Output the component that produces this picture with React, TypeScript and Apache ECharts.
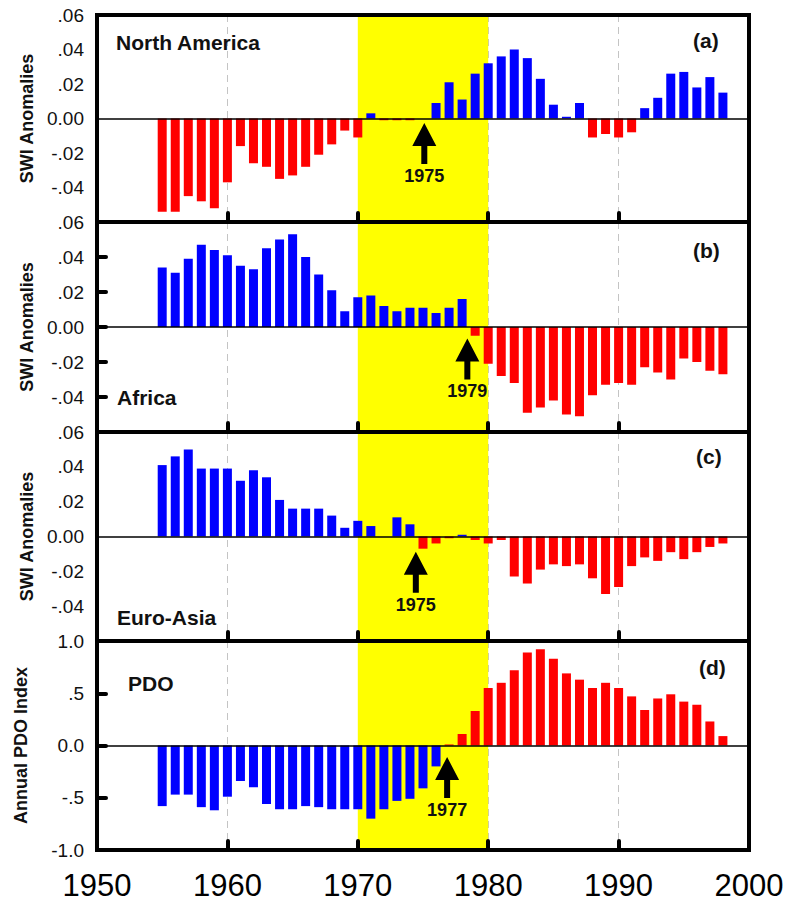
import React, { useEffect, useRef } from 'react';
import * as echarts from 'echarts';

const years = [
  1955, 1956, 1957, 1958, 1959, 1960, 1961, 1962, 1963, 1964,
  1965, 1966, 1967, 1968, 1969, 1970, 1971, 1972, 1973, 1974,
  1975, 1976, 1977, 1978, 1979, 1980, 1981, 1982, 1983, 1984,
  1985, 1986, 1987, 1988, 1989, 1990, 1991, 1992, 1993, 1994,
  1995, 1996, 1997, 1998,
];

const northAmericaSWI = [
  -0.054, -0.054, -0.045, -0.048, -0.052, -0.037, -0.016, -0.026, -0.028, -0.035,
  -0.033, -0.028, -0.021, -0.015, -0.007, -0.011, 0.003, -0.001, -0.001, -0.001,
  0.0, 0.009, 0.021, 0.011, 0.026, 0.032, 0.036, 0.040, 0.035, 0.023,
  0.008, 0.001, 0.009, -0.011, -0.009, -0.011, -0.008, 0.006, 0.012, 0.026,
  0.027, 0.018, 0.024, 0.015,
];

const africaSWI = [
  0.034, 0.031, 0.039, 0.047, 0.044, 0.041, 0.035, 0.033, 0.045, 0.050,
  0.053, 0.040, 0.030, 0.021, 0.009, 0.017, 0.018, 0.012, 0.009, 0.011,
  0.011, 0.008, 0.011, 0.016, -0.005, -0.021, -0.028, -0.032, -0.049, -0.046,
  -0.042, -0.050, -0.051, -0.039, -0.033, -0.032, -0.033, -0.023, -0.026, -0.030,
  -0.018, -0.020, -0.025, -0.027,
];

const euroAsiaSWI = [
  0.041, 0.046, 0.050, 0.039, 0.039, 0.039, 0.032, 0.038, 0.034, 0.021,
  0.016, 0.016, 0.016, 0.012, 0.005, 0.009, 0.006, 0.0, 0.011, 0.007,
  -0.007, -0.004, -0.001, 0.001, -0.002, -0.004, -0.002, -0.023, -0.027, -0.019,
  -0.016, -0.017, -0.016, -0.024, -0.033, -0.029, -0.017, -0.012, -0.014, -0.009,
  -0.013, -0.009, -0.006, -0.004,
];

const pdoIndex = [
  -0.58, -0.47, -0.47, -0.59, -0.62, -0.49, -0.34, -0.40, -0.56, -0.61,
  -0.61, -0.58, -0.59, -0.61, -0.61, -0.61, -0.70, -0.61, -0.53, -0.51,
  -0.41, -0.20, 0.01, 0.11, 0.33, 0.55, 0.60, 0.72, 0.89, 0.92,
  0.83, 0.69, 0.63, 0.55, 0.60, 0.55, 0.47, 0.34, 0.45, 0.49,
  0.42, 0.39, 0.23, 0.09,
];

const panelNames = ['North America', 'Africa', 'Euro-Asia', 'PDO'];
const panelLetters = ['(a)', '(b)', '(c)', '(d)'];
const yAxisNames = ['SWI Anomalies', 'SWI Anomalies', 'SWI Anomalies', 'Annual PDO Index'];
const shiftLabels = ['1975', '1979', '1975', '1977'];
const shiftArrowAt = [
  [1975.1, -0.0026],
  [1978.4, -0.0065],
  [1974.45, -0.0087],
  [1976.85, -0.11],
];
const highlightYears = [1970, 1980];

const FONT = '"Liberation Sans", Arial, Helvetica, sans-serif';
const BLUE = '#0000FF';
const RED = '#FF0000';

const swiFormat = (v: number) => {
  if (Math.abs(v) < 1e-9) return '0.00';
  const s = Math.abs(v).toFixed(2).replace(/^0/, '');
  return (v < 0 ? '-' : '') + s;
};
const pdoFormat = (v: number) => {
  if (Math.abs(v) < 1e-9) return '0.0';
  const s = Math.abs(v).toFixed(1).replace(/^0/, '');
  return (v < 0 ? '-' : '') + s;
};

const panels = [
  { top: 15, height: 207, values: northAmericaSWI, posColor: BLUE, negColor: RED, min: -0.06, max: 0.06, interval: 0.02, fmt: swiFormat, yTicks: false, nameGap: 60, nameSize: 18, nameY: 42, nameX: 116, letterX: 693, letterY: 40 },
  { top: 222, height: 210, values: africaSWI, posColor: BLUE, negColor: RED, min: -0.06, max: 0.06, interval: 0.02, fmt: swiFormat, yTicks: true, nameGap: 60, nameSize: 18, nameY: 397, nameX: 117, letterX: 693, letterY: 250 },
  { top: 432, height: 209, values: euroAsiaSWI, posColor: BLUE, negColor: RED, min: -0.06, max: 0.06, interval: 0.02, fmt: swiFormat, yTicks: false, nameGap: 60, nameSize: 18, nameY: 617, nameX: 117, letterX: 696, letterY: 456 },
  { top: 641, height: 209, values: pdoIndex, posColor: RED, negColor: BLUE, min: -1, max: 1, interval: 0.5, fmt: pdoFormat, yTicks: true, nameGap: 67, nameSize: 18, nameY: 683, nameX: 128, letterX: 699, letterY: 667 },
];

const ARROW = 'path://M12,0L24,23L15,23L15,41L9,41L9,23L0,23Z';

export default function App() {
  const ref = useRef<HTMLDivElement>(null);

  useEffect(() => {
    if (!ref.current) return;
    const chart = echarts.init(ref.current, null, { renderer: 'svg' });

    const grid = panels.map((p) => ({
      left: 97,
      right: 41,
      top: p.top,
      height: p.height,
      show: true,
      borderColor: '#000',
      borderWidth: 4,
      backgroundColor: 'transparent',
      z: 10,
    }));

    const xAxis: any[] = [];
    panels.forEach((p, i) => {
      xAxis.push({
        gridIndex: i,
        type: 'value',
        min: 1950,
        max: 2000,
        interval: 10,
        axisLine: { show: false, onZero: false },
        axisTick: { show: false },
        splitLine: { show: true, lineStyle: { color: '#c4c4c4', width: 1, type: [7, 5] } },
        axisLabel: {
          show: i === 3,
          fontSize: 31,
          color: '#000',
          margin: 20,
          fontFamily: FONT,
          formatter: (v: number) => String(v),
        },
        z: 0,
      });
      xAxis.push({
        gridIndex: i,
        type: 'value',
        min: 1950,
        max: 2000,
        interval: 10,
        position: 'bottom',
        axisLine: { show: false, onZero: false },
        axisTick: { show: true, inside: true, length: 9, lineStyle: { color: '#000', width: 4, cap: 'round' } },
        axisLabel: { show: false },
        splitLine: { show: false },
        z: 6,
      });
    });

    const yAxis = panels.map((p, i) => ({
      gridIndex: i,
      type: 'value',
      min: p.min,
      max: p.max,
      interval: p.interval,
      axisLine: { show: false },
      axisTick: { show: p.yTicks, inside: true, length: 9, lineStyle: { color: '#000', width: 4, cap: 'round' } },
      splitLine: { show: false },
      axisLabel: {
        fontSize: 19,
        color: '#111',
        margin: 13,
        fontFamily: FONT,
        showMinLabel: i === 3,
        showMaxLabel: true,
        formatter: p.fmt,
      },
      name: yAxisNames[i],
      nameLocation: 'middle',
      nameGap: p.nameGap,
      nameTextStyle: { fontSize: p.nameSize, fontWeight: 'bold', color: '#111', fontFamily: FONT },
      z: 6,
    }));

    const series = panels.map((p, i) => ({
      type: 'bar',
      xAxisIndex: 2 * i,
      yAxisIndex: i,
      barWidth: 9,
      silent: true,
      data: years.map((y, k) => [y, p.values[k]]),
      itemStyle: {
        color: (params: any) => (params.value[1] >= 0 ? p.posColor : p.negColor),
      },
      markArea: {
        silent: true,
        itemStyle: { color: '#FFFF00' },
        data: [[{ xAxis: highlightYears[0] }, { xAxis: highlightYears[1] }]],
      },
      markLine: {
        silent: true,
        symbol: 'none',
        label: { show: false },
        lineStyle: { color: '#000', width: 1.5, type: 'solid' },
        data: [{ yAxis: 0 }],
      },
      markPoint: {
        silent: true,
        symbol: ARROW,
        symbolSize: [24, 41],
        symbolOffset: [0, '50%'],
        itemStyle: { color: '#000' },
        label: {
          show: true,
          position: 'bottom',
          distance: 3,
          formatter: shiftLabels[i],
          fontSize: 18,
          fontWeight: 'bold',
          color: '#111',
          fontFamily: FONT,
        },
        data: [{ coord: shiftArrowAt[i] }],
      },
    }));

    const graphic: any[] = [];
    panels.forEach((p, i) => {
      graphic.push({
        type: 'text',
        x: p.nameX,
        y: p.nameY,
        z: 20,
        style: {
          text: panelNames[i],
          fontSize: 21,
          fontWeight: 'bold',
          fontFamily: FONT,
          fill: '#111',
          align: 'left',
          verticalAlign: 'middle',
        },
      });
      graphic.push({
        type: 'text',
        x: p.letterX,
        y: p.letterY,
        z: 20,
        style: {
          text: panelLetters[i],
          fontSize: 21,
          fontWeight: 'bold',
          fontFamily: FONT,
          fill: '#111',
          align: 'left',
          verticalAlign: 'middle',
        },
      });
    });

    chart.setOption({
      animation: false,
      backgroundColor: '#fff',
      textStyle: { fontFamily: FONT },
      grid,
      xAxis,
      yAxis,
      series,
      graphic,
    });

    return () => chart.dispose();
  }, []);

  return (
    <div
      ref={ref}
      style={{ position: 'fixed', left: 0, top: 0, width: 790, height: 902, background: '#fff' }}
    />
  );
}
